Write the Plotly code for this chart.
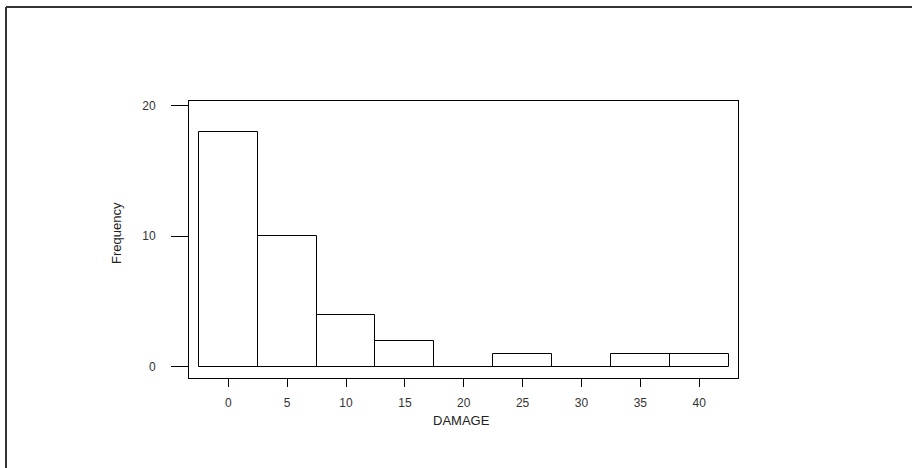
import plotly.graph_objects as go

bin_centers = [0, 5, 10, 15, 20, 25, 30, 35, 40]
frequencies = [18, 10, 4, 2, 0, 1, 0, 1, 1]
x_ticks = [0, 5, 10, 15, 20, 25, 30, 35, 40]
y_ticks = [0, 10, 20]

W, H = 912, 468
L, R, T, B = 189, 738, 101, 378

fig = go.Figure()
fig.add_trace(go.Bar(
    x=bin_centers, y=frequencies, width=5,
    marker=dict(color="white", line=dict(color="black", width=1)),
    showlegend=False, hoverinfo="skip",
))

font = dict(family="Liberation Sans, Arial, sans-serif", size=11, color="#222")

fig.update_layout(
    width=W, height=H,
    margin=dict(l=L, r=W - R, t=T, b=H - B),
    plot_bgcolor="white", paper_bgcolor="white",
    bargap=0, font=font,
    xaxis=dict(range=[-3.34, 43.3], tickvals=x_ticks, ticks="outside", ticklen=8,
               tickcolor="black", showline=True, linecolor="black", linewidth=1,
               mirror=True, showgrid=False, zeroline=False,
               tickfont=dict(size=12, color="#333"), ticklabelstandoff=6),
    yaxis=dict(range=[-0.86, 20.36], tickvals=y_ticks, ticks="outside", ticklen=17,
               tickcolor="black", showline=True, linecolor="black", linewidth=1,
               mirror=True, showgrid=False, zeroline=False,
               tickfont=dict(size=12, color="#333"), ticklabelstandoff=13),
)

pw, ph = R - L, B - T
def px(x):
    return (x - L) / pw
def py(y):
    return (B - y) / ph

# outer frame (top and left edges visible)
fig.add_shape(type="line", xref="paper", yref="paper",
              x0=px(6), x1=px(W + 5), y0=py(7), y1=py(7),
              line=dict(color="#333", width=2))
fig.add_shape(type="line", xref="paper", yref="paper",
              x0=px(6), x1=px(6), y0=py(7), y1=py(H + 5),
              line=dict(color="#333", width=2))

fig.add_annotation(text="DAMAGE", xref="paper", yref="paper",
                   x=px(461), y=py(420), xanchor="center", yanchor="middle",
                   showarrow=False, font=dict(size=13, color="#222"))
fig.add_annotation(text="Frequency", xref="paper", yref="paper",
                   x=px(116), y=py(233), xanchor="center", yanchor="middle",
                   showarrow=False, textangle=-90,
                   font=dict(size=13, color="#222"))

fig.write_html("out.html",
               config={"displayModeBar": False},
               post_script="document.body.style.margin='0';document.body.style.overflow='hidden';")
